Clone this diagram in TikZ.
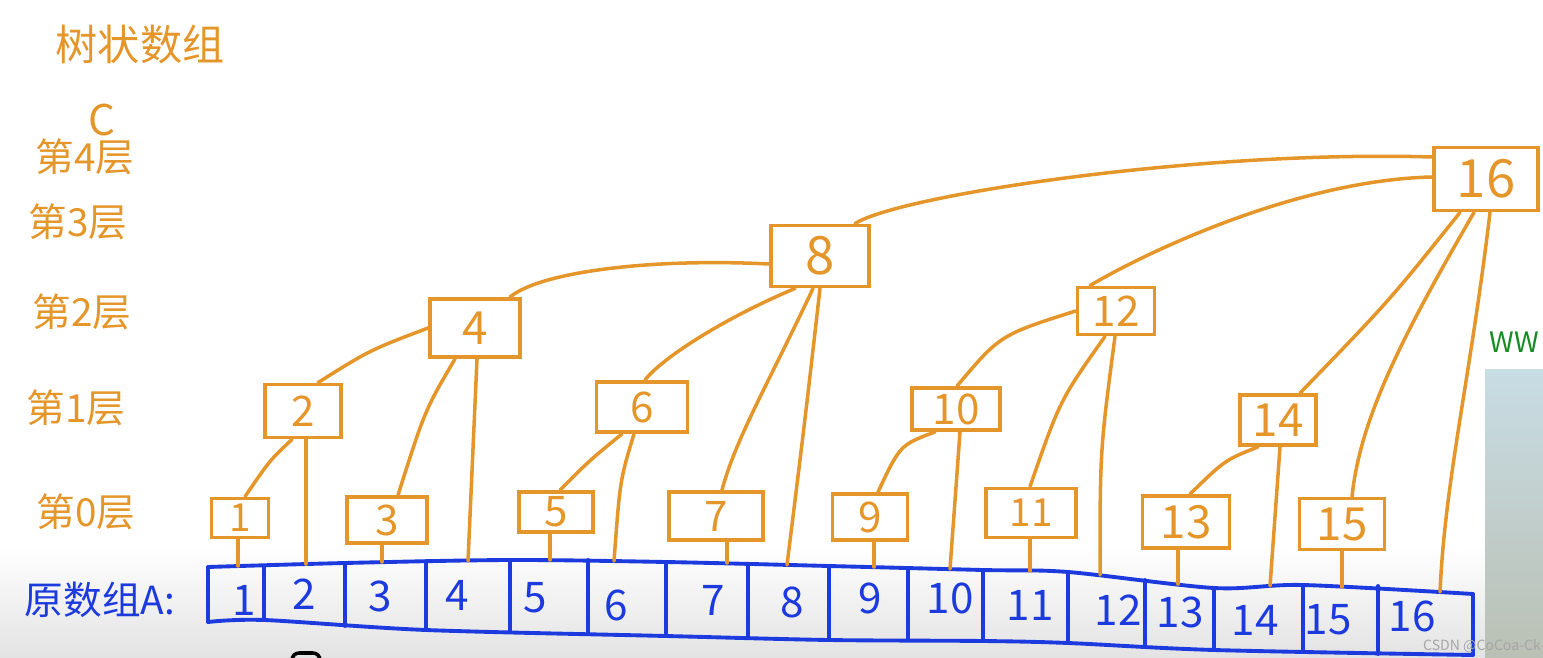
\documentclass[tikz,border=0pt]{standalone}
\usepackage{fontspec}
\setmainfont{Noto Sans CJK SC}
\usepackage{xcolor}
\usepackage{tikz}
\definecolor{pen}{RGB}{228,150,42}
\definecolor{ink}{RGB}{28,58,222}
\definecolor{paneltop}{RGB}{200,220,228}
\definecolor{panelbot}{RGB}{186,192,180}
\definecolor{leaf}{RGB}{22,140,34}

\begin{document}
\begin{tikzpicture}[x=0.01cm,y=-0.01cm,
  cbox/.style={draw=pen,line width=1.1pt,inner sep=0pt,text=pen},
  tie/.style={draw=pen,line width=1pt,line cap=round},
  arr/.style={draw=ink,line width=1.1pt,line cap=round,line join=round},
  hand/.style={text=pen,font=\fontsize{11}{11}\selectfont},
  cell/.style={text=ink,font=\fontsize{12}{12}\selectfont}]
\useasboundingbox (0,0) rectangle (1543,658);
\clip (0,0) rectangle (1543,658);
\shade[top color=white,bottom color=black!11] (0,545) rectangle (1543,658);
\shade[top color=paneltop,bottom color=panelbot] (1485,370) rectangle (1543,658);
\node[text=leaf,font=\fontsize{8}{8}\selectfont,anchor=east,inner sep=1pt] (ww) at (1543,342) {WW};
\draw[line width=1pt,rounded corners=2pt] (292,653) rectangle (320,672);

\node[hand,font=\fontsize{12}{12}\selectfont] (title) at (140,45) {树状数组};
\node[hand,font=\fontsize{12}{12}\selectfont] (lc) at (102,120) {C};
\node[hand] (l4) at (85,157) {第4层};
\node[hand] (l3) at (78,222) {第3层};
\node[hand] (l2) at (82,312) {第2层};
\node[hand] (l1) at (76,408) {第1层};
\node[hand] (l0) at (86,512) {第0层};
\node[hand,text=ink] (la) at (100,600) {原数组A:};

\foreach \i/\x/\y/\w/\h/\s in {1/240/518/57/39/11, 2/303/411/76/53/12, 3/387/520/80/46/12,
  4/475/328/90/58/13, 5/556/512/74/40/12, 6/642/407/91/50/12, 7/716/516/94/48/12,
  8/820/256/98/61/15, 9/870/517/75/46/12, 10/956/409/88/42/12, 11/1031/513/90/49/11,
  12/1116/311/77/47/12, 13/1186/522/87/52/13, 14/1278/420/76/50/13, 15/1342/524/85/51/13,
  16/1486/179/104/63/15}
  \node[cbox,minimum width=\w*0.01cm,minimum height=\h*0.01cm,font=\fontsize{\s}{\s}\selectfont] (c\i) at (\x,\y) {\i};

\draw[arr] plot[smooth] coordinates {(208,567) (345,563) (510,560) (666,562) (829,566) (983,570) (1068,572) (1214,588) (1303,585) (1473,594)};
\draw[arr] plot[smooth] coordinates {(208,622) (264,620) (426,630) (666,636) (829,640) (983,641) (1068,643) (1214,650) (1473,655)};
\foreach \x/\t/\b in {208/567/622, 264/566/620, 345/563/626, 426/561/630, 510/560/632, 588/560/634,
  666/562/636, 748/564/638, 829/566/640, 908/568/640, 983/570/641, 1068/572/643, 1145/580/645,
  1214/588/650, 1303/585/652, 1378/586/654, 1473/594/655}
  \draw[arr] (\x,\t) -- (\x,\b);
\foreach \i/\x/\y in {1/244/600, 2/304/594, 3/380/596, 4/457/595, 5/535/598, 6/616/605, 7/713/600,
  8/792/602, 9/870/598, 10/950/598, 11/1030/605, 12/1118/610, 13/1180/612, 14/1255/620,
  15/1328/620, 16/1412/616}
  \node[cell] (a\i) at (\x,\y) {\i};

\foreach \i/\x/\y in {1/238/566, 2/306/564, 3/382/562, 4/468/561, 5/550/560, 6/614/561, 7/727/563,
  8/787/565, 9/874/567, 10/950/569, 11/1030/571, 12/1100/575, 13/1178/584, 14/1270/586,
  15/1342/587, 16/1440/592}
  \coordinate (t\i) at (\x,\y);

\foreach \i/\x in {1/238, 2/306, 3/382, 4/477, 5/550, 7/727, 9/874, 10/960, 11/1030, 13/1178,
  14/1280, 15/1342}
  \draw[tie] (c\i.south -| \x,0) -- (t\i);
\draw[tie] (c6.south -| 634,0) .. controls (620,480) .. (t6);
\draw[tie] (c8.south -| 820,0) .. controls (805,420) .. (t8);
\draw[tie] (c12.south -| 1115,0) .. controls (1100,450) .. (t12);
\draw[tie] (c16.south -| 1490,0) .. controls (1470,380) and (1445,480) .. (t16);

\draw[tie] (c2.south -| 292,0) .. controls (270,460) .. (c1.north -| 245,0);
\draw[tie] (c6.south -| 622,0) .. controls (590,460) .. (c5.north -| 560,0);
\draw[tie] (c10.south -| 935,0) .. controls (900,445) .. (c9.north -| 878,0);
\draw[tie] (c14.south -| 1258,0) .. controls (1225,460) .. (c13.north -| 1190,0);
\draw[tie] (c4.south -| 455,0) .. controls (425,410) .. (c3.north -| 398,0);
\draw[tie] (c12.south -| 1105,0) .. controls (1060,400) .. (c11.north -| 1030,0);
\draw[tie] (c16.south -| 1460,0) .. controls (1390,300) .. (c14.north -| 1300,0);
\draw[tie] (c16.south -| 1474,0) .. controls (1400,340) and (1360,420) .. (c15.north -| 1352,0);

\draw[tie] (c4.west) .. controls (370,350) .. (c2.north -| 318,0);
\draw[tie] (c12.west) .. controls (1000,335) .. (c10.north -| 957,0);
\draw[tie] (c8.west |- 0,264) .. controls (650,258) and (540,272) .. (c4.north -| 510,0);
\draw[tie] (c16.west |- 0,157) .. controls (1200,150) and (900,195) .. (c8.north -| 855,0);
\draw[tie] (c16.west |- 0,177) .. controls (1300,180) and (1150,250) .. (c12.north -| 1090,0);
\draw[tie] (c8.south -| 795,0) .. controls (720,320) and (660,360) .. (c6.north -| 645,0);
\draw[tie] (c8.south -| 813,0) .. controls (770,380) and (735,440) .. (c7.north -| 722,0);

\node[text=black!35,font=\fontsize{4}{4}\selectfont] (mark) at (1482,646) {CSDN @CoCoa-Ck};
\end{tikzpicture}
\end{document}
